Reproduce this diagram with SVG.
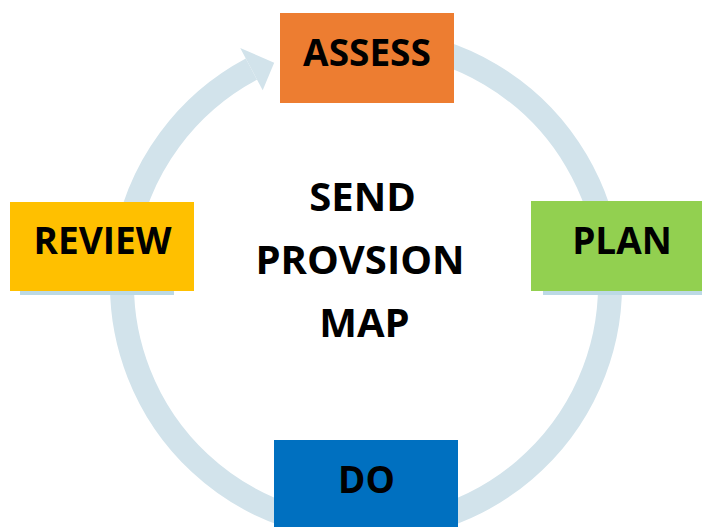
<svg xmlns="http://www.w3.org/2000/svg" width="702" height="527" viewBox="0 0 702 527">
  <style>
    .lbl { font-family: "Open Sans", "Liberation Sans", sans-serif; font-weight: bold; font-size: 37px; fill: #000; text-anchor: middle; }
    .big { font-size: 40px; }
    .ring { fill: none; stroke: #d2e3eb; stroke-width: 24; }
    .shadow { fill: #bcd9e5; }
  </style>
  <rect width="702" height="527" fill="#fff"/>
  <g id="connectors">
    <path class="ring" d="M 387.3 41.4 A 244 244 0 1 1 251.4 69.1"/>
    <polygon points="240.2,47.9 274.2,62.8 262.7,90.3" fill="#d2e3eb"/>
  </g>
  <g id="assess">
    <rect x="280" y="13" width="174" height="90" fill="#ed7d31"/>
    <text class="lbl" x="367" y="66">ASSESS</text>
  </g>
  <g id="plan">
    <rect class="shadow" x="543" y="290" width="159" height="5"/>
    <rect x="531" y="201" width="171" height="90" fill="#92d050"/>
    <text class="lbl" x="622" y="254">PLAN</text>
  </g>
  <g id="do">
    <rect x="274" y="440" width="184" height="87" fill="#0070c0"/>
    <text class="lbl" x="366.5" y="493">DO</text>
  </g>
  <g id="review">
    <rect class="shadow" x="20" y="290" width="154" height="5"/>
    <rect x="10" y="202" width="184" height="89" fill="#ffc000"/>
    <text class="lbl" x="102.5" y="254">REVIEW</text>
  </g>
  <g id="center">
    <text class="lbl big" x="362.5" y="211">SEND</text>
    <text class="lbl big" x="360" y="274">PROVSION</text>
    <text class="lbl big" x="364.5" y="337">MAP</text>
  </g>
</svg>
